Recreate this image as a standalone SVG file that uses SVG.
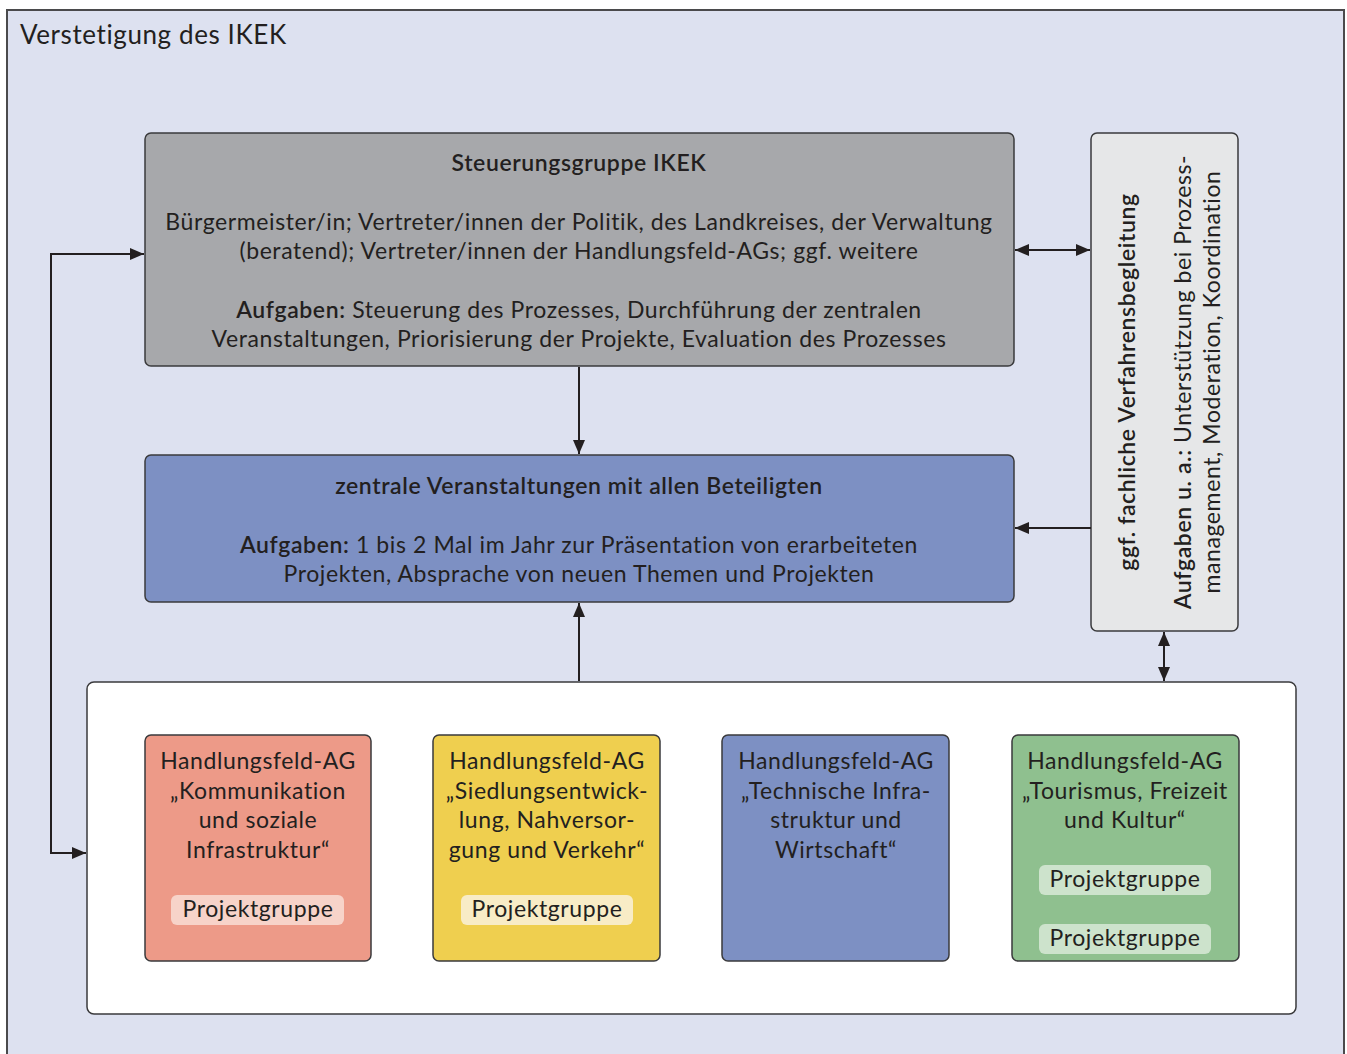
<svg xmlns="http://www.w3.org/2000/svg" width="1347" height="1054" viewBox="0 0 1347 1054">
<defs>
<marker id="ah" viewBox="0 0 14 12" refX="14" refY="6" markerWidth="14" markerHeight="12" markerUnits="userSpaceOnUse" orient="auto-start-reverse">
<path d="M0,0 L14,6 L0,12 Z" fill="#231f20"/>
</marker>
<style>
text{font-family:Lato,"Noto Sans","Liberation Sans",sans-serif;fill:#231f20;font-size:23px;letter-spacing:0.6px}
.c{text-anchor:middle}
.m{font-weight:600}
.box{stroke:#3a3a3c;stroke-width:1.5}
.pill{stroke:none}
.con{stroke:#231f20;stroke-width:2;fill:none}
</style>
</defs>
<rect x="7" y="10" width="1337" height="1060" fill="#dde1f0" stroke="#4a4a4c" stroke-width="2"/>
<text x="20" y="44" style="font-size:26px">Verstetigung des IKEK</text>

<g id="steuerungsgruppe">
<rect class="box" x="145" y="133" width="869" height="233" rx="6" fill="#a7a8ab"/>
<text class="c m" x="579" y="171">Steuerungsgruppe IKEK</text>
<text class="c" x="579" y="230">Bürgermeister/in; Vertreter/innen der Politik, des Landkreises, der Verwaltung</text>
<text class="c" x="579" y="259">(beratend); Vertreter/innen der Handlungsfeld-AGs; ggf. weitere</text>
<text class="c" x="579" y="318"><tspan class="m">Aufgaben:</tspan> Steuerung des Prozesses, Durchführung der zentralen</text>
<text class="c" x="579" y="347">Veranstaltungen, Priorisierung der Projekte, Evaluation des Prozesses</text>
</g>

<g id="zentrale-veranstaltungen">
<rect class="box" x="145" y="455" width="869" height="147" rx="6" fill="#7d90c3"/>
<text class="c m" x="579" y="494">zentrale Veranstaltungen mit allen Beteiligten</text>
<text class="c" x="579" y="553"><tspan class="m">Aufgaben:</tspan> 1 bis 2 Mal im Jahr zur Präsentation von erarbeiteten</text>
<text class="c" x="579" y="582">Projekten, Absprache von neuen Themen und Projekten</text>
</g>

<g id="verfahrensbegleitung">
<rect class="box" x="1091" y="133" width="147" height="498" rx="6" fill="#e6e7e8"/>
<text class="c m" transform="translate(1135,382) rotate(-90)">ggf. fachliche Verfahrensbegleitung</text>
<text class="c" transform="translate(1191,382) rotate(-90)"><tspan class="m">Aufgaben u. a.:</tspan> Unterstützung bei Prozess-</text>
<text class="c" transform="translate(1220,382) rotate(-90)">management, Moderation, Koordination</text>
</g>

<g id="handlungsfelder">
<rect class="box" x="87" y="682" width="1209" height="332" rx="7" fill="#ffffff"/>
</g>

<g id="ag-kommunikation">
<rect class="box" x="145" y="735" width="226" height="226" rx="6" fill="#ed9a88"/>
<text class="c" x="258" y="769">Handlungsfeld-AG</text>
<text class="c" x="258" y="799">„Kommunikation</text>
<text class="c" x="258" y="828">und soziale</text>
<text class="c" x="258" y="858">Infrastruktur“</text>
<rect class="pill" x="171" y="895" width="173" height="30" rx="6" fill="#f7d3c9"/>
<text class="c" x="258" y="917">Projektgruppe</text>
</g>

<g id="ag-siedlung">
<rect class="box" x="433" y="735" width="227" height="226" rx="6" fill="#efcf4f"/>
<text class="c" x="547" y="769">Handlungsfeld-AG</text>
<text class="c" x="547" y="799">„Siedlungsentwick-</text>
<text class="c" x="547" y="828">lung, Nahversor-</text>
<text class="c" x="547" y="858">gung und Verkehr“</text>
<rect class="pill" x="461" y="895" width="172" height="30" rx="6" fill="#f8ecc6"/>
<text class="c" x="547" y="917">Projektgruppe</text>
</g>

<g id="ag-technik">
<rect class="box" x="722" y="735" width="227" height="226" rx="6" fill="#7d90c3"/>
<text class="c" x="836" y="769">Handlungsfeld-AG</text>
<text class="c" x="836" y="799">„Technische Infra-</text>
<text class="c" x="836" y="828">struktur und</text>
<text class="c" x="836" y="858">Wirtschaft“</text>
</g>

<g id="ag-tourismus">
<rect class="box" x="1012" y="735" width="227" height="226" rx="6" fill="#8fc08f"/>
<text class="c" x="1125" y="769">Handlungsfeld-AG</text>
<text class="c" x="1125" y="799">„Tourismus, Freizeit</text>
<text class="c" x="1125" y="828">und Kultur“</text>
<rect class="pill" x="1039" y="865" width="172" height="30" rx="6" fill="#cde3cc"/>
<text class="c" x="1125" y="887">Projektgruppe</text>
<rect class="pill" x="1039" y="924" width="172" height="30" rx="6" fill="#cde3cc"/>
<text class="c" x="1125" y="946">Projektgruppe</text>
</g>

<g id="connectors">
<path class="con" d="M579,367 V454" marker-end="url(#ah)"/>
<path class="con" d="M579,681 V603" marker-end="url(#ah)"/>
<path class="con" d="M1015,250 H1090" marker-start="url(#ah)" marker-end="url(#ah)"/>
<path class="con" d="M1091,528 H1015" marker-end="url(#ah)"/>
<path class="con" d="M1164,632 V681" marker-start="url(#ah)" marker-end="url(#ah)"/>
<path class="con" d="M144,254 H51 V853 H86" marker-start="url(#ah)" marker-end="url(#ah)"/>
</g>
</svg>
